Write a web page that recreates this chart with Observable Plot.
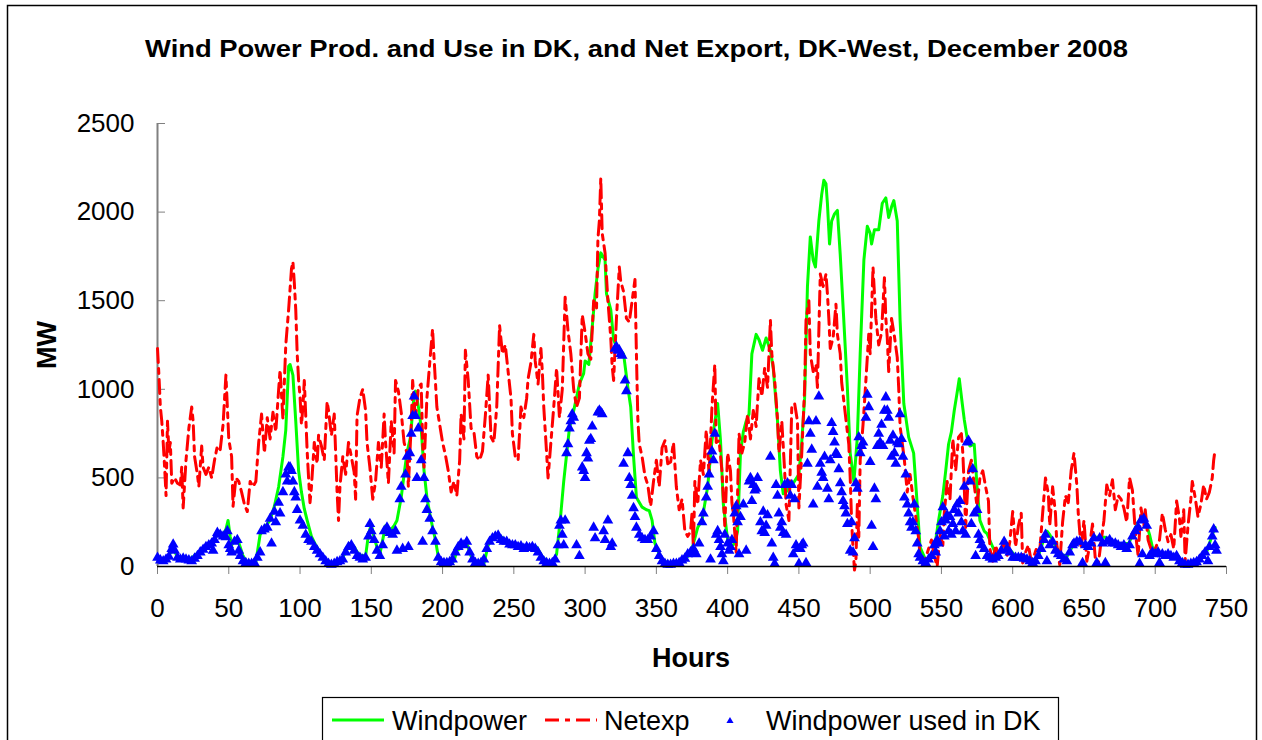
<!DOCTYPE html>
<html>
<head>
<meta charset="utf-8">
<script src="https://cdn.jsdelivr.net/npm/d3@7"></script>
<script src="https://cdn.jsdelivr.net/npm/@observablehq/plot@0.6"></script>
<style>
  html, body { margin: 0; padding: 0; background: #fff; }
  #chart { width: 1262px; height: 740px; overflow: hidden; }
</style>
</head>
<body>
<div id="chart"></div>
<script>
// ---- Data (hour, MW) ----
const titleText = "Wind Power Prod. and Use in DK, and Net Export, DK-West, December 2008";
const yLabel = "MW";
const xLabel = "Hours";
const seriesNames = ["Windpower", "Netexp", "Windpower used in DK"];
const xTicks = [0, 50, 100, 150, 200, 250, 300, 350, 400, 450, 500, 550, 600, 650, 700, 750];
const yTicks = [0, 500, 1000, 1500, 2000, 2500];

const windpower = [[0,50],[4,40],[8,60],[11,110],[14,50],[18,45],[22,40],[26,60],[30,90],[34,110],[38,130],[40,150],[42,200],[44,190],[46,180],[48,210],[49.5,260],[51,170],[52,120],[54,150],[56,160],[58,110],[60,60],[63,20],[66,15],[69,25],[72,180],[76,230],[79,260],[82,340],[85,450],[88,620],[90,770],[92,1130],[93,1140],[95,1080],[97,820],[99,540],[101,420],[103,325],[105,260],[108,170],[111,120],[114,80],[117,40],[120,20],[123,20],[126,30],[129,40],[132,80],[135,130],[138,110],[141,70],[144,60],[146,60],[148,180],[150,240],[152,160],[154,110],[156,70],[158,150],[160,230],[163,200],[166,230],[168,260],[171,390],[173,520],[175,640],[177.5,730],[180,970],[181,990],[183.5,880],[185,780],[187,540],[189,390],[191,300],[193,220],[195,150],[197,55],[200,25],[204,20],[208,30],[210,90],[214,110],[217,130],[221,35],[224,15],[229,15],[232,120],[236,170],[240,175],[245,140],[250,130],[255,115],[260,110],[266,110],[270,55],[274,25],[278,35],[280,70],[283,300],[285,480],[289,780],[292,880],[296,1030],[299,1090],[300,1160],[302.6,1140],[305,1350],[307,1540],[309,1680],[311,1770],[314,1730],[315,1540],[318,1450],[320,1280],[322,1240],[324,1220],[327,1200],[330,1010],[332,900],[334,620],[336,390],[340,335],[343,320],[345,315],[347,260],[349,130],[352,70],[354,40],[358,20],[361,15],[365,20],[368,35],[371,50],[374,70],[376,130],[379,220],[382,260],[386,450],[389,710],[393,920],[395,710],[397,350],[400,150],[402,110],[405,130],[407,200],[409,640],[411,760],[413,820],[415,860],[417,1200],[420,1310],[422,1280],[424.5,1220],[427,1290],[430,1220],[432,1120],[435,820],[437,540],[439,410],[441,420],[443,450],[446,470],[450,520],[452,700],[454,950],[456,1580],[458,1860],[460,1730],[461.6,1690],[464,1950],[466,2100],[467.5,2180],[469,2160],[470,2050],[471.5,1820],[473,1950],[475,1990],[477,2010],[479,1760],[481.5,1390],[484,1010],[486,640],[488.6,480],[491,730],[493,1200],[495.6,1730],[498,1920],[500,1880],[501,1820],[503,1900],[506,1900],[508.5,2050],[511,2080],[513,1970],[515,2030],[516.6,2065],[519,1950],[521,1390],[523.6,920],[527,730],[530.5,640],[533,350],[535,110],[539,35],[543.5,55],[546,150],[548,260],[551,400],[553,540],[555,690],[557,760],[559,880],[561,980],[562.5,1060],[564.6,920],[566,830],[568,730],[570,680],[573,690],[575,450],[577,260],[580,200],[582,185],[586,110],[589,55],[592,100],[594,130],[596,110],[598.5,90],[603,50],[607,55],[610,50],[615,35],[618,60],[620,110],[624,200],[626,180],[628,150],[631,100],[634,70],[638,55],[643,130],[647.6,140],[652,110],[657,165],[661,165],[665,165],[668,155],[672,130],[677,130],[681.5,130],[685,200],[688,250],[690,270],[693,260],[696,180],[698,110],[701.4,80],[706,70],[711,60],[717,35],[722,15],[729,25],[733,60],[736.5,90],[740,180],[742,220]];

const netexp = [[0,1230],[1,1080],[2,900],[3,820],[4,700],[5,560],[6,400],[7,820],[8,650],[9,700],[10,470],[12,500],[14,470],[16,460],[17,560],[18,330],[20,600],[22,780],[24,900],[25,820],[26,620],[28,520],[29,450],[31,680],[32,560],[34,520],[36,560],[38,500],[40,600],[42,680],[44,660],[46,800],[48,1080],[49,900],[50,720],[52,620],[53,340],[55,500],[57,480],[59,420],[61,350],[63,310],[65,480],[67,450],[69,480],[71,700],[73,860],[75,640],[77,840],[79,720],[81,870],[83,760],[85,1000],[86,1110],[88,830],[90,1250],[92,1450],[94,1680],[95,1720],[96,1600],[97,1450],[98,1200],[99,1050],[100,960],[101,800],[102,900],[103,1050],[104,850],[105,650],[106,500],[107,360],[108,450],[110,700],[112,580],[113,740],[115,680],[117,600],[119,930],[120,880],[122,740],[124,860],[125,640],[126,420],[127,260],[128,450],[130,620],[132,520],[134,700],[136,620],[138,530],[139,380],[140,850],[142,950],[144,1000],[146,880],[147,700],[149,560],[151,380],[153,480],[155,700],[157,560],[159,860],[160,700],[162,470],[164,820],[166,640],[167,1050],[169,990],[171,870],[173,700],[175,640],[176,450],[178,800],[179,1050],[181,830],[183,1010],[185,1030],[186,700],[187,560],[189,950],[191,1150],[193,1340],[194,1180],[196,900],[198,800],[200,700],[202,630],[204,540],[206,420],[208,480],[210,400],[212,600],[213,860],[215,720],[216,1220],[218,1050],[220,780],[222,760],[224,620],[226,600],[228,650],[230,850],[232,1080],[234,730],[236,700],[238,900],[240,1360],[242,1200],[244,1250],[246,1100],[248,950],[249,750],[251,620],[253,600],[255,900],[257,840],[259,950],[260,1060],[262,1150],[264,1310],[265,1160],[267,1030],[269,1230],[270,1100],[271,900],[273,640],[274,500],[276,700],[278,900],[280,1120],[282,840],[284,1000],[286,1520],[288,1330],[290,1200],[292,1000],[294,900],[296,950],[298,1420],[300,1320],[302,1200],[304,1170],[306,1500],[308,1450],[309,1850],[310,1950],[311,2190],[312,1880],[314,1770],[316,1500],[318,1290],[319,1130],[320,1050],[322,1400],[324,1690],[325,1610],[327,1550],[329,1400],[331,1380],[333,1500],[335,1620],[336,1200],[337,830],[338,690],[340,620],[342,510],[344,460],[346,340],[348,480],[350,600],[352,450],[354,670],[356,710],[358,580],[360,590],[362,700],[364,450],[366,320],[368,380],[370,200],[372,170],[374,200],[375,300],[376,100],[377,480],[379,350],[381,600],[383,520],[385,770],[387,520],[389,900],[391,1140],[392,700],[394,710],[396,540],[398,230],[400,640],[402,540],[403,360],[404,300],[406,80],[408,750],[410,640],[412,700],[414,860],[416,720],[418,880],[420,790],[422,1060],[424,960],[426,1120],[428,1010],[430,1390],[431,1200],[433,1050],[435,830],[436,640],[438,820],[440,540],[441,350],[443,260],[445,900],[447,920],[449,820],[450,330],[452,640],[454,1000],[455,1390],[457,1500],[458,1200],[460,1100],[462,1140],[463,1010],[465,1650],[467,1580],[469,1650],[470,1540],[471,1400],[472,1230],[474,1290],[476,1480],[477,1310],[479,1200],[480,1040],[482,900],[484,760],[485,690],[486,500],[487,250],[488,100],[489,-20],[490,30],[491,350],[492,150],[493,600],[495,800],[497,1050],[499,1310],[500,1200],[502,1690],[503,1540],[504,1400],[506,1250],[508,1320],[510,1630],[511,1400],[512,1290],[513,1100],[515,1400],[517,1300],[519,1180],[520,1010],[521,790],[522,730],[524,600],[526,420],[528,520],[530,390],[532,280],[534,160],[535,60],[537,10],[539,50],[541,100],[543,150],[545,60],[547,0],[549,180],[551,120],[552,300],[554,480],[556,380],[558,720],[560,540],[562,730],[564,750],[565,640],[566,450],[567,220],[569,540],[571,600],[573,460],[575,340],[577,500],[579,540],[581,450],[583,370],[584,100],[586,30],[588,120],[590,60],[592,90],[594,150],[596,60],[598,140],[600,310],[602,110],[604,230],[606,300],[607,20],[609,80],[611,120],[613,30],[615,60],[617,110],[619,90],[621,300],[623,500],[625,410],[626,230],[628,450],[630,300],[631,120],[633,10],[635,250],[637,400],[639,360],[641,540],[643,640],[645,460],[646,300],[648,100],[650,260],[652,30],[654,120],[656,240],[658,40],[660,10],[662,140],[664,260],[666,460],[668,400],[670,490],[672,320],[674,400],[676,380],[678,330],[680,250],[682,500],[684,430],[686,200],[688,60],[690,330],[692,230],[693,320],[695,150],[697,100],[699,80],[701,120],[703,150],[705,300],[707,210],[709,140],[711,180],[713,100],[715,370],[717,270],[718,170],[720,320],[721,30],[723,230],[725,380],[726,480],[728,390],[730,280],[732,350],[734,460],[736,380],[738,420],[740,500],[741,600],[742,660]];

const usedInDK = [[0,50],[2,35],[4,30],[6,40],[8,55],[10,100],[11,125],[12,90],[14,50],[16,40],[18,45],[20,40],[22,35],[24,30],[26,45],[28,60],[30,80],[32,95],[34,110],[36,120],[38,130],[39,90],[40,150],[42,190],[44,180],[46,170],[48,165],[49,200],[50,120],[51,100],[52,80],[54,140],[56,150],[57,90],[58,60],[60,30],[62,20],[64,15],[66,15],[68,20],[70,50],[72,80],[73,200],[75,210],[77,220],[79,270],[80,130],[82,310],[83,250],[85,360],[86,300],[88,420],[90,520],[91,480],[92,560],[93,560],[94,540],[95,480],[96,420],[97,390],[98,320],[100,260],[102,230],[104,180],[106,150],[108,140],[110,110],[112,90],[114,70],[116,50],[118,30],[120,15],[122,10],[124,15],[126,25],[128,30],[130,40],[132,80],[134,110],[136,120],[138,90],[140,60],[142,50],[144,40],[146,50],[148,170],[149,240],[150,200],[152,150],[154,90],[156,60],[158,120],[159,200],[161,220],[163,190],[165,180],[167,200],[168,90],[170,380],[171,450],[172,100],[174,520],[175,620],[176,110],[177,640],[178,750],[179,850],[180,960],[181,850],[182,500],[183,780],[185,600],[186,140],[187,500],[188,380],[189,320],[191,270],[193,200],[195,140],[197,50],[199,25],[201,20],[203,20],[205,25],[207,40],[209,80],[211,110],[213,130],[215,120],[217,140],[219,80],[221,40],[223,20],[225,15],[227,20],[229,40],[231,100],[233,140],[235,160],[237,170],[239,175],[241,150],[243,140],[245,140],[247,125],[249,120],[251,120],[253,110],[255,115],[257,100],[259,110],[261,105],[263,110],[265,100],[267,80],[269,50],[271,30],[273,20],[275,15],[277,20],[279,40],[281,120],[282,230],[283,260],[284,180],[285,120],[286,260],[287,640],[288,690],[289,780],[290,820],[291,860],[292,840],[294,120],[296,60],[298,560],[299,540],[300,500],[301,640],[302,610],[303,710],[304,720],[305,790],[306,220],[307,160],[309,870],[310,880],[311,870],[312,860],[313,200],[314,150],[316,260],[318,110],[319,130],[321,1230],[322,1240],[323,1220],[324,1220],[325,1200],[326,1190],[327,580],[328,1050],[329,990],[330,640],[331,500],[332,460],[333,400],[334,330],[335,280],[336,220],[338,180],[340,160],[342,150],[344,150],[346,170],[348,200],[350,100],[352,60],[354,30],[356,15],[358,10],[360,10],[362,15],[364,15],[366,20],[368,35],[370,45],[372,70],[374,80],[376,100],[378,70],[380,130],[382,250],[383,300],[385,390],[386,450],[387,520],[388,40],[389,650],[390,600],[391,750],[392,180],[393,200],[394,150],[395,110],[396,70],[397,30],[398,180],[400,130],[401,90],[402,110],[403,150],[405,300],[406,340],[407,250],[408,70],[409,280],[411,350],[413,90],[415,480],[416,500],[417,370],[418,460],[419,430],[420,440],[421,500],[423,250],[424,200],[425,310],[426,190],[427,230],[428,290],[430,620],[431,130],[432,50],[433,15],[434,460],[435,400],[436,300],[437,220],[438,250],[439,190],[440,460],[441,180],[442,470],[444,400],[445,460],[446,70],[447,380],[448,120],[449,100],[450,15],[451,100],[452,120],[453,130],[455,20],[456,580],[457,820],[458,750],[459,660],[460,350],[462,820],[463,450],[464,960],[465,580],[466,530],[467,500],[468,620],[470,440],[471,380],[472,600],[473,810],[474,760],[475,700],[476,640],[477,630],[478,550],[479,470],[480,420],[481,370],[482,340],[483,300],[484,240],[486,90],[487,250],[488,80],[489,160],[490,470],[491,440],[492,730],[493,640],[494,680],[495,700],[497,840],[498,970],[499,900],[500,590],[501,230],[502,110],[503,440],[504,380],[505,680],[506,750],[507,700],[508,800],[509,680],[510,880],[511,955],[512,880],[513,840],[514,710],[515,620],[516,740],[517,640],[518,580],[519,700],[520,690],[521,860],[522,720],[523,620],[524,390],[525,520],[526,350],[527,300],[528,250],[529,220],[530,250],[531,350],[532,200],[533,130],[534,70],[535,50],[537,30],[539,20],[541,40],[543,60],[545,120],[546,80],[547,150],[548,130],[549,200],[550,250],[551,335],[552,170],[553,260],[554,290],[555,200],[556,280],[557,180],[558,240],[559,320],[560,200],[561,350],[562,300],[563,370],[564,250],[565,200],[566,450],[567,180],[568,700],[569,710],[570,480],[571,240],[572,550],[573,300],[574,60],[575,320],[576,180],[577,150],[578,120],[580,100],[582,60],[584,50],[586,40],[588,50],[590,60],[592,90],[594,140],[596,100],[598,80],[600,50],[602,50],[604,50],[606,50],[608,45],[610,40],[612,30],[614,20],[616,30],[618,60],[620,100],[622,150],[623,180],[624,30],[626,120],[628,140],[630,90],[632,70],[634,60],[636,40],[638,30],[640,80],[642,120],[643,130],[645,140],[647,140],[649,20],[651,120],[653,110],[655,130],[657,160],[659,20],[661,160],[663,130],[665,20],[666,140],[668,150],[670,130],[672,130],[674,120],[676,110],[678,120],[680,100],[682,120],[684,170],[686,200],[688,220],[689,15],[690,260],[691,70],[692,270],[694,230],[696,60],[698,80],[700,70],[702,80],[703,20],[705,70],[707,60],[709,70],[711,60],[713,50],[715,60],[717,30],[719,20],[721,10],[723,10],[725,15],[727,20],[729,25],[731,40],[733,60],[735,80],[737,30],[738,110],[740,170],[741,210],[742,120],[743,90]];

// ---- Build tables for the library ----
const windData = windpower.map(([h, v]) => ({hour: h, mw: v}));
const netData = netexp.map(([h, v]) => ({hour: h, mw: v}));
const usedData = usedInDK.map(([h, v]) => ({hour: h, mw: v}));

const FONT = "'Liberation Sans', Arial, Helvetica, sans-serif";
const GREEN = "#00FF00", RED = "#FF0000", BLUE = "#0000FF";
const DASH = "14,6,5,6";

const svg = Plot.plot({
  width: 1262,
  height: 740,
  marginLeft: 157,
  marginRight: 36,
  marginTop: 123,
  marginBottom: 174,
  style: {fontFamily: FONT, fontSize: "26px", color: "#000", background: "#fff", overflow: "visible"},
  x: {domain: [0, 750], label: null},
  y: {domain: [0, 2500], label: null},
  marks: [
    Plot.axisX(xTicks, {tickSize: 8, tickPadding: 24, stroke: "#808080", fontSize: 26, tickFormat: "d"}),
    Plot.axisY(yTicks, {tickSize: -8, tickPadding: 31, stroke: "#808080", fontSize: 26, tickFormat: "d"}),
    Plot.ruleX([0], {stroke: "#808080", strokeWidth: 2}),
    Plot.line(windData, {x: "hour", y: "mw", stroke: GREEN, strokeWidth: 3}),
    Plot.line(netData, {x: "hour", y: "mw", stroke: RED, strokeWidth: 3, strokeDasharray: DASH}),
    Plot.dot(usedData, {x: "hour", y: "mw", symbol: "triangle", r: 4, fill: BLUE, stroke: null}),
    Plot.ruleY([0], {stroke: "#000", strokeWidth: 1.5})
  ]
});

const s = d3.select(svg);
s.selectAll("g[aria-label$='tick label'] text").attr("fill", "#000");

// outer frame
s.insert("rect", ":first-child")
  .attr("x", 7.5).attr("y", 5.5).attr("width", 1249).attr("height", 800)
  .attr("fill", "#fff").attr("stroke", "#000").attr("stroke-width", 1.5);

// title
s.append("text")
  .attr("x", 145).attr("y", 57)
  .attr("text-anchor", "start")
  .attr("font-family", FONT).attr("font-weight", "bold").attr("font-size", 23)
  .attr("textLength", 983).attr("lengthAdjust", "spacingAndGlyphs")
  .attr("fill", "#000").text(titleText);

// axis titles
s.append("text")
  .attr("transform", "translate(56,345) rotate(-90)")
  .attr("text-anchor", "middle")
  .attr("font-family", FONT).attr("font-weight", "bold").attr("font-size", 27)
  .attr("fill", "#000").text(yLabel);
s.append("text")
  .attr("x", 691).attr("y", 667)
  .attr("text-anchor", "middle")
  .attr("font-family", FONT).attr("font-weight", "bold").attr("font-size", 27)
  .attr("fill", "#000").text(xLabel);

// legend
const lg = s.append("g").attr("text-anchor", "start");
lg.append("rect").attr("x", 322.5).attr("y", 697.5).attr("width", 736).attr("height", 70)
  .attr("fill", "#fff").attr("stroke", "#000").attr("stroke-width", 1.2);
lg.append("line").attr("x1", 332).attr("x2", 384).attr("y1", 720).attr("y2", 720)
  .attr("stroke", GREEN).attr("stroke-width", 3);
lg.append("text").attr("x", 392).attr("y", 730).attr("text-anchor", "start").attr("font-family", FONT).attr("font-size", 27)
  .attr("fill", "#000").text(seriesNames[0]);
lg.append("line").attr("x1", 545).attr("x2", 597).attr("y1", 720).attr("y2", 720)
  .attr("stroke", RED).attr("stroke-width", 3).attr("stroke-dasharray", DASH);
lg.append("text").attr("x", 604).attr("y", 730).attr("text-anchor", "start").attr("font-family", FONT).attr("font-size", 27)
  .attr("fill", "#000").text(seriesNames[1]);
lg.append("path").attr("d", d3.symbol(d3.symbolTriangle, 22)()).attr("transform", "translate(730,721)")
  .attr("fill", BLUE);
lg.append("text").attr("x", 766).attr("y", 730).attr("text-anchor", "start").attr("font-family", FONT).attr("font-size", 27)
  .attr("fill", "#000").text(seriesNames[2]);

document.getElementById("chart").appendChild(svg);
</script>
</body>
</html>
